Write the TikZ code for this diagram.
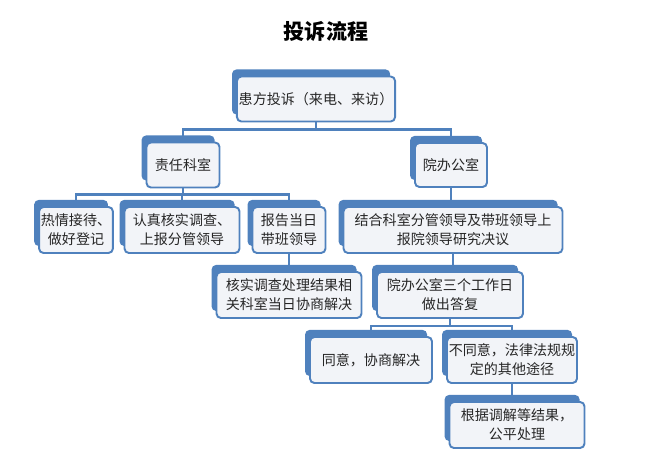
\documentclass[tikz,border=0pt]{standalone}
\usepackage{fontspec}
\newfontfamily\cjk{Noto Sans CJK SC}
\usetikzlibrary{shadows}
\definecolor{boxblue}{HTML}{4F81BD}
\definecolor{boxfill}{HTML}{F2F4F8}
\tikzset{
    card/.style={draw=boxblue, line width=1.1pt, fill=boxfill, rounded corners=2.5pt,
        align=center, inner sep=1pt, text=black!85,
        font=\cjk\fontsize{8}{10.8}\selectfont,
        general shadow={fill=boxblue, shadow xshift=-2.8pt, shadow yshift=4pt}},
    link/.style={draw=boxblue, line width=1.2pt},
}
\begin{document}
\begin{tikzpicture}[x=0.02cm, y=-0.02cm]
    \useasboundingbox (0,0) rectangle (655,462);
    % 标题
    \node (title) at (326,31) {\cjk\bfseries\fontsize{12}{14}\selectfont 投诉流程};

    % 第一层
    \node[card, minimum width=3.14cm, minimum height=0.9cm] (src) at (316,99) {患方投诉（来电、来访）};

    % 第二层
    \node[card, minimum width=1.46cm, minimum height=0.9cm] (duty) at (183,165) {责任科室};
    \node[card, minimum width=1.44cm, minimum height=0.88cm] (office) at (451,165) {院办公室};

    % 第三层
    \node[card, minimum width=1.42cm, minimum height=0.92cm] (greet) at (76,230) {热情接待、\\做好登记};
    \node[card, minimum width=2.3cm, minimum height=0.92cm] (check) at (182,230) {认真核实调查、\\上报分管领导};
    \node[card, minimum width=1.46cm, minimum height=0.92cm] (report) at (289,230) {报告当日\\带班领导};
    \node[card, minimum width=4.38cm, minimum height=0.92cm] (joint) at (453,230) {结合科室分管领导及带班领导上\\报院领导研究决议};

    % 第四层
    \node[card, minimum width=2.9cm, minimum height=0.92cm] (solve) at (289,295) {核实调查处理结果相\\关科室当日协商解决};
    \node[card, minimum width=2.92cm, minimum height=0.92cm] (reply) at (450,295) {院办公室三个工作日\\做出答复};

    % 第五层
    \node[card, minimum width=2.44cm, minimum height=0.92cm] (agree) at (371,360) {同意，协商解决};
    \node[card, minimum width=2.6cm, minimum height=0.92cm] (refuse) at (512,360) {不同意，法律法规规\\定的其他途径};
    \node[card, minimum width=2.7cm, minimum height=0.92cm] (fair) at (517,425) {根据调解等结果，\\公平处理};

    % 连线
    \draw[link] (src.south) -- ++(0,7) -| (duty.north);
    \draw[link] (src.south) -- ++(0,7) -| (office.north);
    \foreach \kid in {greet,check,report}
        \draw[link] (duty.south) -- ++(0,6) -| (\kid.north);
    \draw[link] (office.south) -- (office.south |- joint.north);
    \draw[link] (report.south) -- (solve.north);
    \draw[link] (joint.south) -- (joint.south |- reply.north);
    \draw[link] (reply.south) -- ++(0,7) -| (agree.north);
    \draw[link] (reply.south) -- ++(0,7) -| (refuse.north);
    \draw[link] (refuse.south) -- (refuse.south |- fair.north);
\end{tikzpicture}
\end{document}
